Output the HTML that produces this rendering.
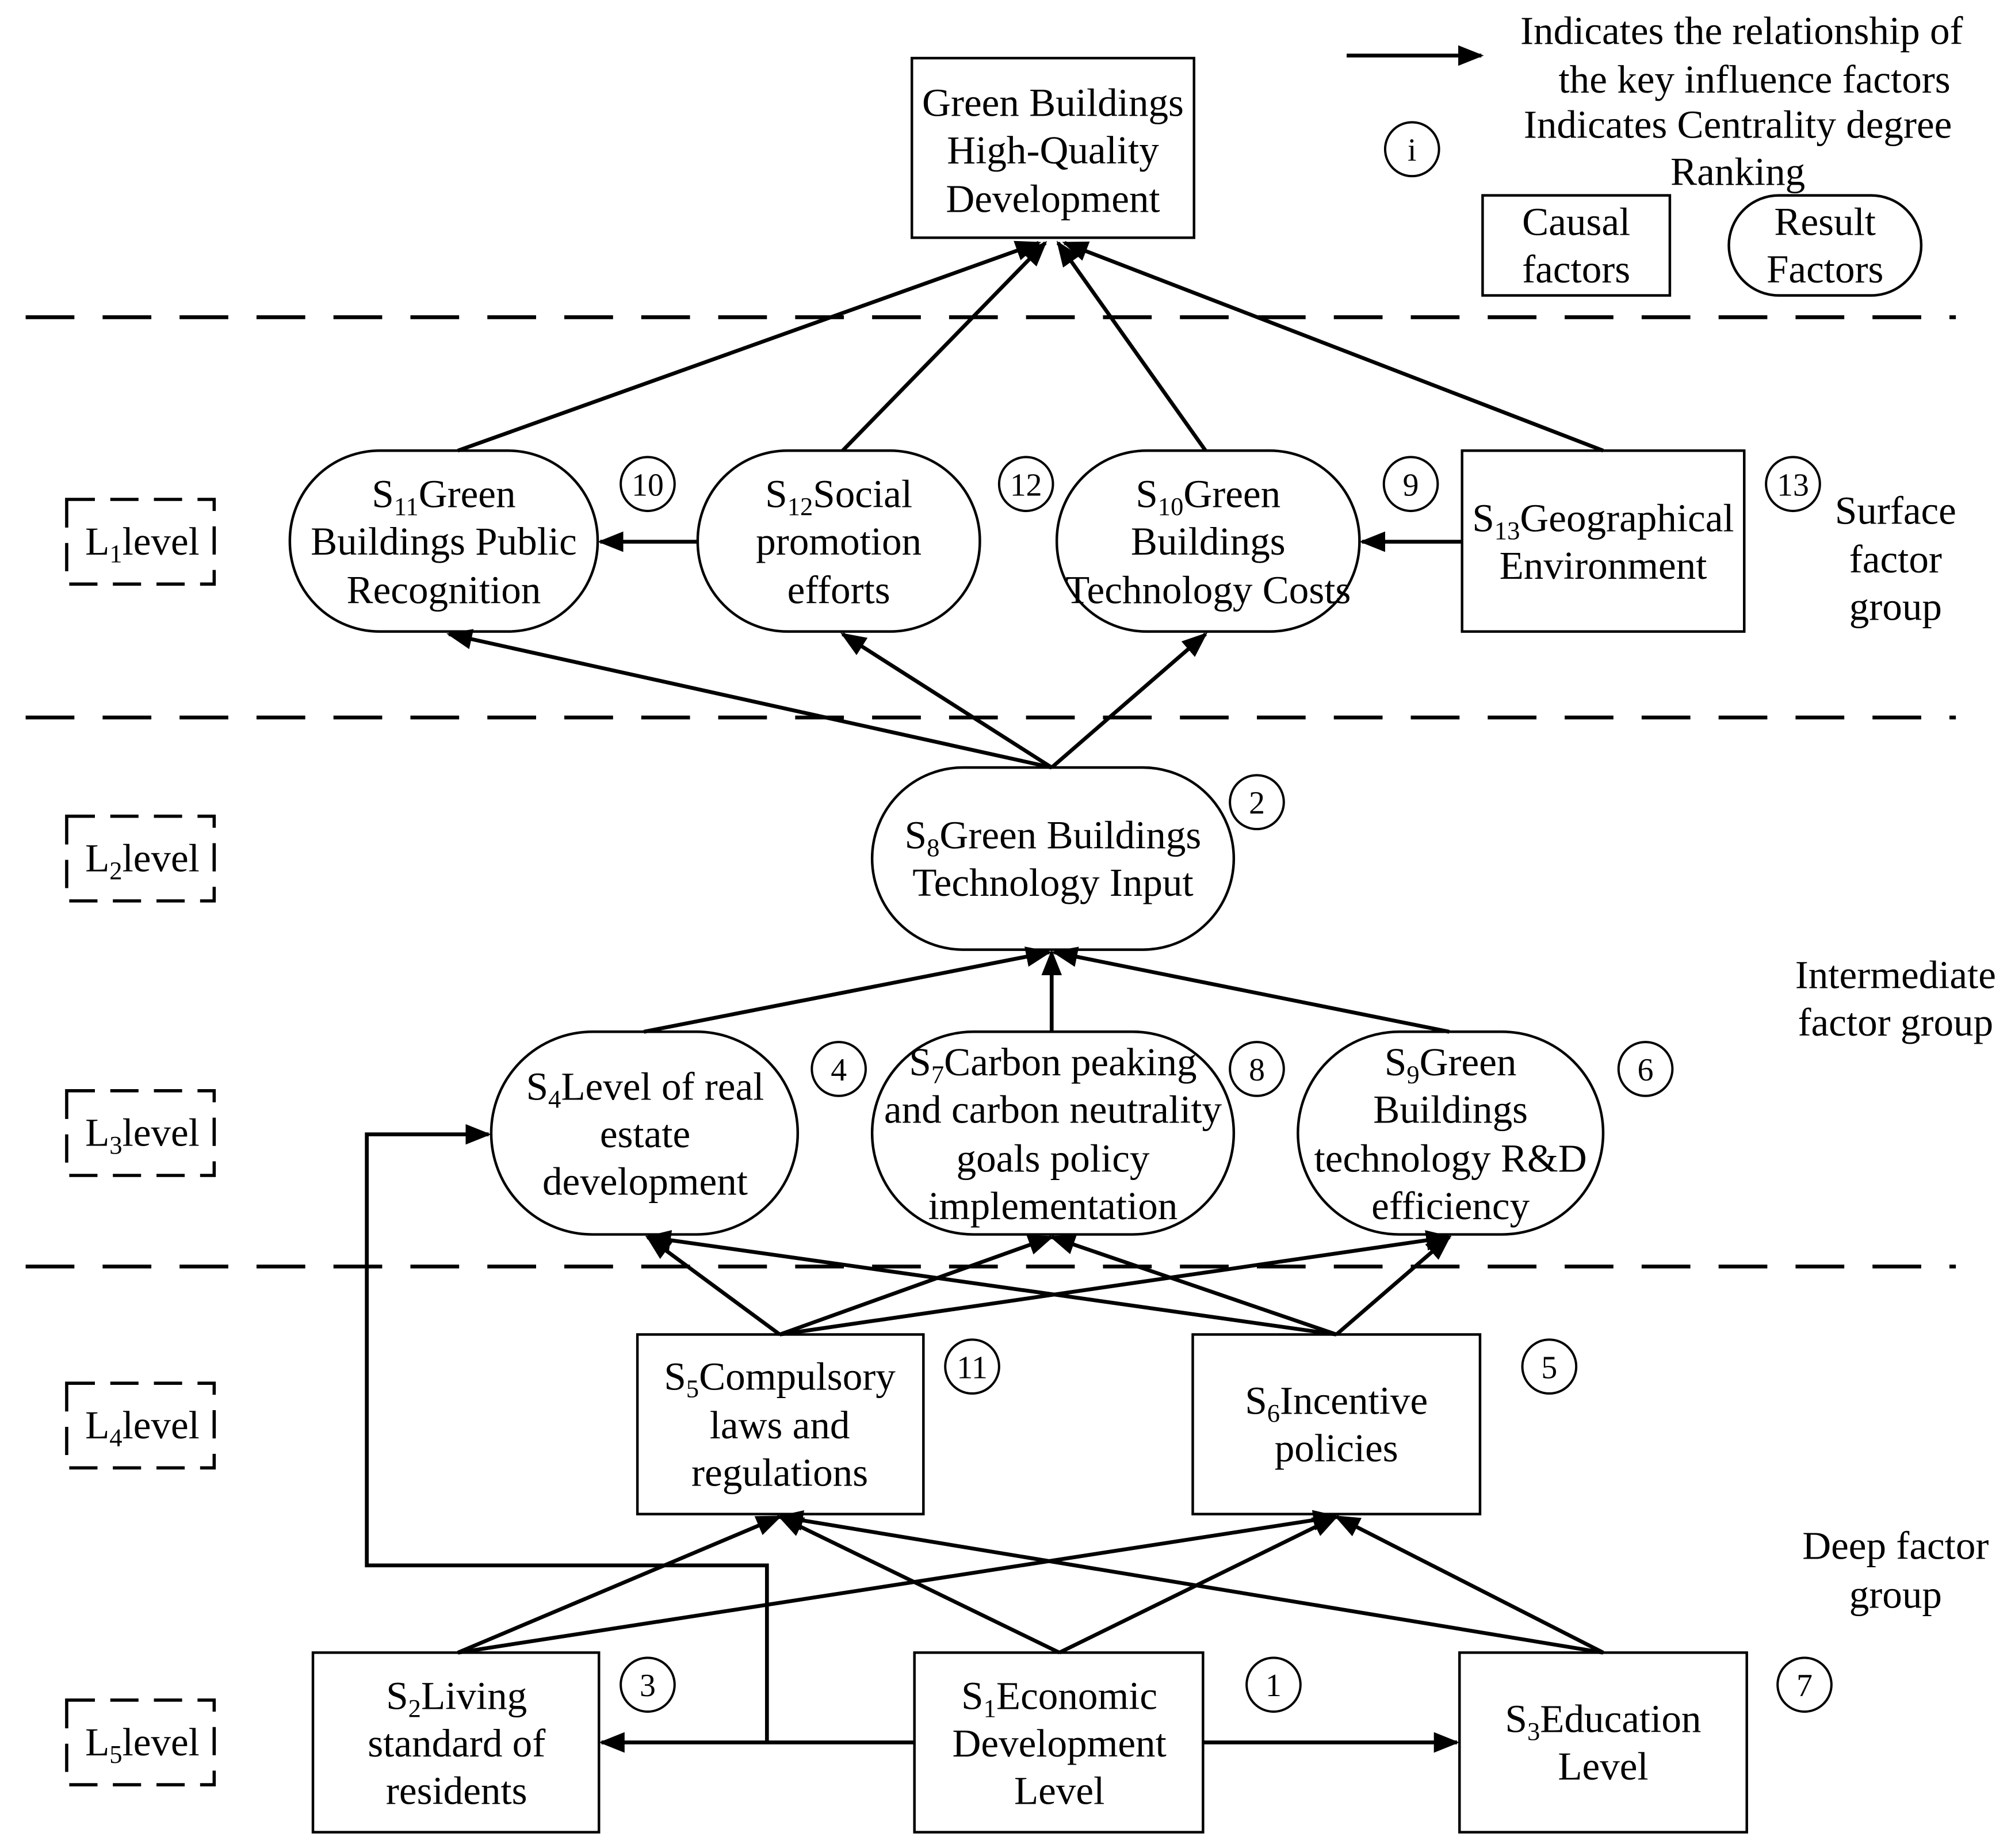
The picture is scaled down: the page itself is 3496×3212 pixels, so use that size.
<!DOCTYPE html>
<html><head><meta charset="utf-8"><style>
html,body{margin:0;padding:0;background:#fff}
svg{display:block}
text{font-family:"Liberation Serif",serif;font-size:31px;fill:#000;text-anchor:middle}
.sub{font-size:20px}
.n{font-size:25px}
</style></head><body>
<svg width="3496" height="3212" viewBox="0 0 1568 1440" xmlns="http://www.w3.org/2000/svg">
<defs>
<marker id="b" viewBox="0 0 10 10" refX="9" refY="5" markerWidth="20" markerHeight="20" markerUnits="userSpaceOnUse" orient="auto"><path d="M0,1 L10,5 L0,9 z" fill="#000"/></marker></defs>
<g stroke="#000" stroke-width="3" fill="none">
<line x1="20" y1="247" x2="1525" y2="247" stroke-dasharray="38 22"/>
<line x1="20" y1="559" x2="1525" y2="559" stroke-dasharray="38 22"/>
<line x1="20" y1="987" x2="1525" y2="987" stroke-dasharray="38 22"/>
<g stroke-dasharray="22 12" stroke-width="2.5">
<rect x="52" y="389" width="115" height="66"/>
<rect x="52" y="636" width="115" height="66"/>
<rect x="52" y="850" width="115" height="66"/>
<rect x="52" y="1078" width="115" height="66"/>
<rect x="52" y="1325" width="115" height="66"/>
</g>
<rect x="711" y="45" width="220" height="140" stroke-width="2"/>
<rect x="1156" y="152" width="146" height="78" stroke-width="2"/>
<rect x="1348" y="152" width="150" height="78" rx="39" stroke-width="2"/>
<rect x="226" y="351" width="240" height="141" rx="70" stroke-width="2"/>
<rect x="544" y="351" width="220" height="141" rx="70" stroke-width="2"/>
<rect x="824" y="351" width="236" height="141" rx="70" stroke-width="2"/>
<rect x="1140" y="351" width="220" height="141" stroke-width="2"/>
<rect x="680" y="598" width="282" height="142" rx="71" stroke-width="2"/>
<rect x="383" y="804" width="239" height="158" rx="79" stroke-width="2"/>
<rect x="680" y="804" width="282" height="158" rx="79" stroke-width="2"/>
<rect x="1012" y="804" width="238" height="158" rx="79" stroke-width="2"/>
<rect x="497" y="1040" width="223" height="140" stroke-width="2"/>
<rect x="930" y="1040" width="224" height="140" stroke-width="2"/>
<rect x="244" y="1288" width="223" height="140" stroke-width="2"/>
<rect x="713" y="1288" width="225" height="140" stroke-width="2"/>
<rect x="1138" y="1288" width="224" height="140" stroke-width="2"/>
<g stroke-width="1.8">
<circle cx="1101" cy="116" r="21"/>
<circle cx="505" cy="377" r="21"/><circle cx="800" cy="377" r="21"/><circle cx="1100" cy="377" r="21"/><circle cx="1398" cy="377" r="21"/>
<circle cx="980" cy="625" r="21"/>
<circle cx="654" cy="833" r="21"/><circle cx="980" cy="833" r="21"/><circle cx="1283" cy="833" r="21"/>
<circle cx="758" cy="1065" r="21"/><circle cx="1208" cy="1065" r="21"/>
<circle cx="505" cy="1313" r="21"/><circle cx="993" cy="1313" r="21"/><circle cx="1407" cy="1313" r="21"/>
</g>
<g marker-end="url(#b)">
<line x1="1050" y1="43" x2="1155" y2="43"/>
<line x1="357" y1="351" x2="810" y2="189"/>
<line x1="657" y1="351" x2="815" y2="189"/>
<line x1="940" y1="351" x2="825" y2="189"/>
<line x1="1250" y1="351" x2="830" y2="189"/>
<line x1="544" y1="422" x2="468" y2="422"/>
<line x1="1140" y1="422" x2="1062" y2="422"/>
<line x1="820" y1="598" x2="350" y2="494"/>
<line x1="820" y1="598" x2="657" y2="494"/>
<line x1="820" y1="598" x2="940" y2="494"/>
<line x1="502" y1="804" x2="818" y2="742"/>
<line x1="820" y1="804" x2="820" y2="742"/>
<line x1="1130" y1="804" x2="822" y2="742"/>
<line x1="608" y1="1040" x2="505" y2="964"/>
<line x1="608" y1="1040" x2="820" y2="964"/>
<line x1="608" y1="1040" x2="1130" y2="964"/>
<line x1="1042" y1="1040" x2="505" y2="964"/>
<line x1="1042" y1="1040" x2="820" y2="964"/>
<line x1="1042" y1="1040" x2="1130" y2="964"/>
<line x1="357" y1="1288" x2="608" y2="1182"/>
<line x1="357" y1="1288" x2="1042" y2="1182"/>
<line x1="826" y1="1288" x2="608" y2="1182"/>
<line x1="826" y1="1288" x2="1042" y2="1182"/>
<line x1="1250" y1="1288" x2="608" y2="1182"/>
<line x1="1250" y1="1288" x2="1042" y2="1182"/>
<line x1="713" y1="1358" x2="469" y2="1358"/>
<line x1="938" y1="1358" x2="1136" y2="1358"/>
<polyline points="598,1358 598,1220 286,1220 286,884 381,884"/>
</g>
</g>
<text x="821" y="90">Green Buildings</text>
<text x="821" y="127">High-Quality</text>
<text x="821" y="165">Development</text>
<text x="1358" y="34">Indicates the relationship of</text>
<text x="1368" y="72">the key influence factors</text>
<text x="1355" y="107">Indicates Centrality degree</text>
<text x="1355" y="144">Ranking</text>
<text x="1101" y="125" class="n">i</text>
<text x="1229" y="183">Causal</text><text x="1229" y="220">factors</text>
<text x="1423" y="183">Result</text><text x="1423" y="220">Factors</text>
<text x="111" y="432">L<tspan class="sub" dy="6">1</tspan><tspan dy="-6">level</tspan></text>
<text x="111" y="679">L<tspan class="sub" dy="6">2</tspan><tspan dy="-6">level</tspan></text>
<text x="111" y="893">L<tspan class="sub" dy="6">3</tspan><tspan dy="-6">level</tspan></text>
<text x="111" y="1121">L<tspan class="sub" dy="6">4</tspan><tspan dy="-6">level</tspan></text>
<text x="111" y="1368">L<tspan class="sub" dy="6">5</tspan><tspan dy="-6">level</tspan></text>
<text x="346" y="395">S<tspan class="sub" dy="6">11</tspan><tspan dy="-6">Green</tspan></text>
<text x="346" y="432">Buildings Public</text>
<text x="346" y="470">Recognition</text>
<text x="654" y="395">S<tspan class="sub" dy="6">12</tspan><tspan dy="-6">Social</tspan></text>
<text x="654" y="432">promotion</text>
<text x="654" y="470">efforts</text>
<text x="942" y="395">S<tspan class="sub" dy="6">10</tspan><tspan dy="-6">Green</tspan></text>
<text x="942" y="432">Buildings</text>
<text x="942" y="470">Technology Costs</text>
<text x="1250" y="414">S<tspan class="sub" dy="6">13</tspan><tspan dy="-6">Geographical</tspan></text>
<text x="1250" y="451">Environment</text>
<text x="505" y="386" class="n">10</text><text x="800" y="386" class="n">12</text>
<text x="1100" y="386" class="n">9</text><text x="1398" y="386" class="n">13</text>
<text x="980" y="634" class="n">2</text>
<text x="654" y="842" class="n">4</text><text x="980" y="842" class="n">8</text><text x="1283" y="842" class="n">6</text>
<text x="758" y="1074" class="n">11</text><text x="1208" y="1074" class="n">5</text>
<text x="505" y="1322" class="n">3</text><text x="993" y="1322" class="n">1</text><text x="1407" y="1322" class="n">7</text>
<text x="1478" y="408">Surface</text><text x="1478" y="446">factor</text><text x="1478" y="483">group</text>
<text x="1478" y="770">Intermediate</text><text x="1478" y="807">factor group</text>
<text x="1478" y="1215">Deep factor</text><text x="1478" y="1253">group</text>
<text x="821" y="661">S<tspan class="sub" dy="6">8</tspan><tspan dy="-6">Green Buildings</tspan></text>
<text x="821" y="698">Technology Input</text>
<text x="503" y="857">S<tspan class="sub" dy="6">4</tspan><tspan dy="-6">Level of real</tspan></text>
<text x="503" y="894">estate</text>
<text x="503" y="931">development</text>
<text x="821" y="838">S<tspan class="sub" dy="6">7</tspan><tspan dy="-6">Carbon peaking</tspan></text>
<text x="821" y="875">and carbon neutrality</text>
<text x="821" y="913">goals policy</text>
<text x="821" y="950">implementation</text>
<text x="1131" y="838">S<tspan class="sub" dy="6">9</tspan><tspan dy="-6">Green</tspan></text>
<text x="1131" y="875">Buildings</text>
<text x="1131" y="913">technology R&amp;D</text>
<text x="1131" y="950">efficiency</text>
<text x="608" y="1083">S<tspan class="sub" dy="6">5</tspan><tspan dy="-6">Compulsory</tspan></text>
<text x="608" y="1121">laws and</text>
<text x="608" y="1158">regulations</text>
<text x="1042" y="1102">S<tspan class="sub" dy="6">6</tspan><tspan dy="-6">Incentive</tspan></text>
<text x="1042" y="1139">policies</text>
<text x="356" y="1332">S<tspan class="sub" dy="6">2</tspan><tspan dy="-6">Living</tspan></text>
<text x="356" y="1369">standard of</text>
<text x="356" y="1406">residents</text>
<text x="826" y="1332">S<tspan class="sub" dy="6">1</tspan><tspan dy="-6">Economic</tspan></text>
<text x="826" y="1369">Development</text>
<text x="826" y="1406">Level</text>
<text x="1250" y="1350">S<tspan class="sub" dy="6">3</tspan><tspan dy="-6">Education</tspan></text>
<text x="1250" y="1387">Level</text>
</svg>
</body></html>
